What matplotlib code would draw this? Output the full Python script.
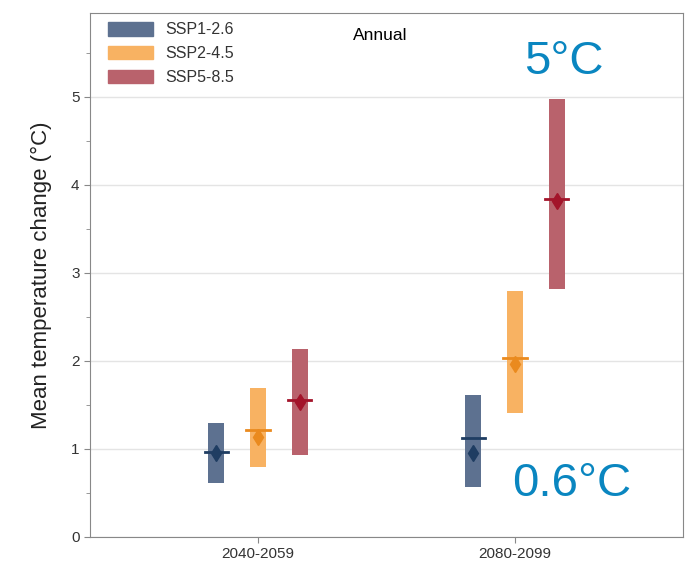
import matplotlib.pyplot as plt
from matplotlib.patches import Patch
import numpy as np

plt.rcParams['font.family'] = ['Liberation Sans', 'DejaVu Sans']

# data
periods = ["2040-2059", "2080-2099"]
scenarios = ["SSP1-2.6", "SSP2-4.5", "SSP5-8.5"]
low = {"SSP1-2.6": [0.61, 0.57], "SSP2-4.5": [0.80, 1.41], "SSP5-8.5": [0.93, 2.82]}
high = {"SSP1-2.6": [1.29, 1.61], "SSP2-4.5": [1.69, 2.79], "SSP5-8.5": [2.14, 4.98]}
median = {"SSP1-2.6": [0.97, 1.12], "SSP2-4.5": [1.22, 2.03], "SSP5-8.5": [1.56, 3.84]}
mean = {"SSP1-2.6": [0.95, 0.95], "SSP2-4.5": [1.13, 1.97], "SSP5-8.5": [1.53, 3.82]}

bar_colors = ["#5d7190", "#f8b262", "#b9626c"]
mark_colors = ["#1f3d62", "#ea8a1e", "#a3142a"]

fig = plt.figure(figsize=(6.97, 5.70), dpi=100)
ax = fig.add_axes([0.129, 0.058, 0.851, 0.919])

x = np.arange(len(periods))
offsets = [-0.163, 0, 0.163]
w = 0.062

for i, s in enumerate(scenarios):
    xs = x + offsets[i]
    lo = np.array(low[s])
    hi = np.array(high[s])
    ax.bar(xs, hi - lo, bottom=lo, width=w, color=bar_colors[i], zorder=2)
    for xx, m in zip(xs, median[s]):
        ax.plot([xx - 0.045, xx + 0.045], [m, m], color=mark_colors[i], lw=2, zorder=3)
    ax.plot(xs, mean[s], 'd', color=mark_colors[i], markersize=8, zorder=4)

ax.set_xlim(-0.654, 1.654)
ax.set_ylim(0, 5.95)
ax.set_xticks(x)
ax.set_xticklabels(periods, fontsize=11)
ax.set_yticks(range(6))
ax.set_yticks(np.arange(0.5, 6, 1), minor=True)
ax.tick_params(axis='both', labelsize=11, color='#888888', length=4, labelcolor='#333333')
ax.tick_params(axis='y', which='minor', color='#888888', length=3)
ax.yaxis.grid(True, color='#e4e4e4', lw=1, zorder=0)
ax.set_axisbelow(True)
for sp in ax.spines.values():
    sp.set_color('#888888')

ax.set_ylabel("Mean temperature change (°C)", fontsize=16, labelpad=14, color='#222222')

handles = [Patch(color=c) for c in bar_colors]
ax.legend(handles, scenarios, loc='upper left', frameon=False, fontsize=11.5,
          handlelength=2.8, handleheight=0.9, labelspacing=0.55, handletextpad=0.8,
          bbox_to_anchor=(0.006, 1.01), labelcolor='#333333')

ax.text(0.49, 0.957, "Annual", transform=ax.transAxes, ha='center', va='center', fontsize=12.5)

ax.text(1.19, 5.4, "5°C", color='#0a86c0', fontsize=34, ha='center', va='center')
ax.text(1.22, 0.6, "0.6°C", color='#0a86c0', fontsize=34, ha='center', va='center')

plt.savefig('out.png', dpi=100)
